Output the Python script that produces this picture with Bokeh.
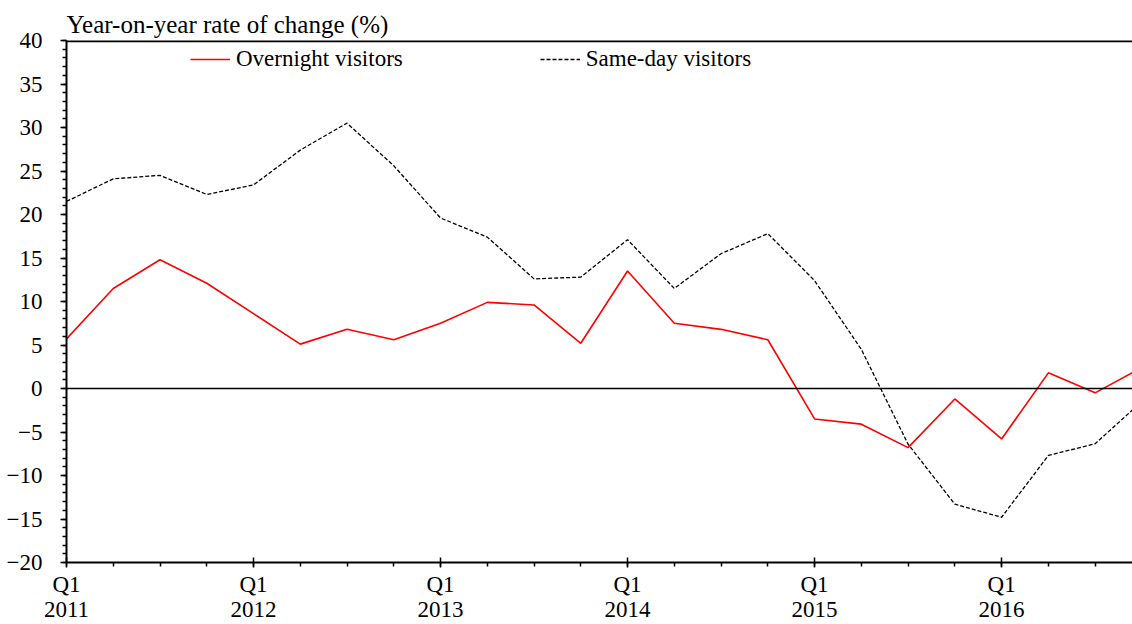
from bokeh.plotting import figure
from bokeh.models import FixedTicker, Span, Range1d, Legend, LegendItem
from bokeh.embed import file_html
from bokeh.resources import INLINE

# ---- data ----
quarters = [f"Q{q} {y}" for y in range(2011, 2017) for q in range(1, 5)]
overnight = [5.7, 11.5, 14.8, 12.1, 8.6, 5.1, 6.8, 5.6,
             7.5, 9.9, 9.6, 5.2, 13.5, 7.5, 6.8, 5.6,
             -3.5, -4.1, -6.8, -1.2, -5.8, 1.8, -0.5, 2.4]
sameday = [21.5, 24.1, 24.5, 22.3, 23.4, 27.4, 30.5, 25.6,
           19.6, 17.4, 12.6, 12.8, 17.1, 11.5, 15.5, 17.8,
           12.4, 4.5, -6.4, -13.3, -14.8, -7.7, -6.35, -1.5]
year_labels = ["2011", "2012", "2013", "2014", "2015", "2016"]
y_ticks = list(range(-20, 45, 5))

FONT = "Liberation Serif"

x = list(range(len(quarters)))

p = figure(width=1132, height=624,
           x_range=Range1d(0, 22.8), y_range=Range1d(-20, 40),
           output_backend="svg", toolbar_location=None,
           min_border_left=66, min_border_right=0,
           min_border_top=40, min_border_bottom=60)
p.xgrid.visible = False
p.ygrid.visible = False
p.outline_line_color = None
p.background_fill_color = "white"
p.border_fill_color = "white"

# title (y-axis caption at top-left)
p.title.text = "Year-on-year rate of change (%)"
p.title.align = "left"
p.title.text_font = FONT
p.title.text_font_size = "25px"
p.title.text_font_style = "normal"
p.title.text_color = "black"
p.title.offset = 0
p.title.standoff = 5

# lines
r1 = p.line(x, overnight, line_color="#ff0000", line_width=1.6)
r2 = p.line(x, sameday, line_color="black", line_width=1.3, line_dash="4 2")

# zero line and top border
p.add_layout(Span(location=0, dimension="width", line_color="black", line_width=1.5))
p.add_layout(Span(location=40, dimension="width", line_color="black", line_width=3.5))

# y axis
ya = p.yaxis[0]
ya.ticker = FixedTicker(ticks=y_ticks, minor_ticks=list(range(-20, 41)))
ya.axis_line_width = 2
ya.axis_line_color = "black"
ya.major_tick_in = 0
ya.major_tick_out = 6
ya.minor_tick_in = 0
ya.minor_tick_out = 4
ya.major_tick_line_width = 1.5
ya.minor_tick_line_width = 1.5
ya.major_tick_line_color = "black"
ya.minor_tick_line_color = "black"
ya.major_label_text_font = FONT
ya.major_label_text_font_size = "23px"
ya.major_label_text_color = "black"
ya.major_label_standoff = 18

# x axis
xa = p.xaxis[0]
major_x = [i for i, q in enumerate(quarters) if q.startswith("Q1")]
xa.ticker = FixedTicker(ticks=major_x, minor_ticks=x)
xa.major_label_overrides = {i: f"Q1\n{yr}" for i, yr in zip(major_x, year_labels)}
xa.axis_line_width = 2
xa.axis_line_color = "black"
xa.major_tick_in = 5
xa.major_tick_out = 5
xa.minor_tick_in = 0
xa.minor_tick_out = 4
xa.major_tick_line_width = 1.5
xa.minor_tick_line_width = 1.5
xa.major_tick_line_color = "black"
xa.minor_tick_line_color = "black"
xa.major_label_text_font = FONT
xa.major_label_text_font_size = "23px"
xa.major_label_text_line_height = 1.0
xa.major_label_text_color = "black"
xa.major_label_standoff = 4

legend = Legend(items=[LegendItem(label="Overnight visitors", renderers=[r1]),
                       LegendItem(label="Same-day visitors", renderers=[r2])],
                orientation="horizontal", location=(124, 490),
                spacing=137, glyph_width=40, glyph_height=22,
                label_height=22, label_standoff=6, padding=0, margin=0,
                border_line_color=None, background_fill_alpha=0,
                label_text_font=FONT, label_text_font_size="23px",
                label_text_color="black")
p.add_layout(legend)

open("out.html", "w").write(file_html(p, INLINE))
